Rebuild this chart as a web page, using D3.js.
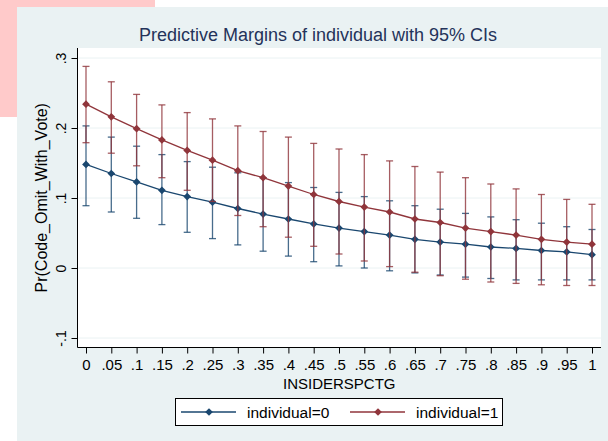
<!DOCTYPE html>
<html>
<head>
<meta charset="utf-8">
<script src="https://cdn.jsdelivr.net/npm/d3@7"></script>
<style>
  html, body { margin: 0; padding: 0; background: #fff; }
  svg { display: block; font-family: "Liberation Sans", Arial, sans-serif; }
</style>
</head>
<body>
<svg id="chart" width="608" height="441"></svg>
<script>
const xValues = [0, 0.05, 0.1, 0.15, 0.2, 0.25, 0.3, 0.35, 0.4, 0.45, 0.5, 0.55, 0.6, 0.65, 0.7, 0.75, 0.8, 0.85, 0.9, 0.95, 1];
const xTickLabels = ["0", ".05", ".1", ".15", ".2", ".25", ".3", ".35", ".4", ".45", ".5", ".55", ".6", ".65", ".7", ".75", ".8", ".85", ".9", ".95", "1"];
const yTicks = [-0.1, 0, 0.1, 0.2, 0.3];
const yTickLabels = ["-.1", "0", ".1", ".2", ".3"];

// individual=0
const est0 = [0.148, 0.135, 0.123, 0.111, 0.102, 0.094, 0.085, 0.077, 0.070, 0.063, 0.057, 0.052, 0.047, 0.041, 0.037, 0.034, 0.030, 0.028, 0.025, 0.023, 0.019];
const hi0 = [0.203, 0.187, 0.174, 0.162, 0.152, 0.144, 0.136, 0.129, 0.122, 0.115, 0.108, 0.102, 0.096, 0.089, 0.084, 0.078, 0.073, 0.069, 0.064, 0.059, 0.055];
const lo0 = [0.089, 0.080, 0.071, 0.062, 0.051, 0.042, 0.033, 0.024, 0.017, 0.009, 0.003, 0.000, -0.004, -0.007, -0.010, -0.013, -0.015, -0.017, -0.017, -0.017, -0.017];

// individual=1
const est1 = [0.234, 0.216, 0.199, 0.183, 0.168, 0.154, 0.139, 0.129, 0.117, 0.105, 0.095, 0.087, 0.080, 0.070, 0.065, 0.057, 0.052, 0.047, 0.041, 0.037, 0.034];
const hi1 = [0.288, 0.266, 0.248, 0.233, 0.222, 0.213, 0.203, 0.195, 0.187, 0.178, 0.170, 0.162, 0.153, 0.145, 0.137, 0.129, 0.120, 0.113, 0.105, 0.098, 0.091];
const lo1 = [0.179, 0.164, 0.146, 0.129, 0.111, 0.095, 0.075, 0.059, 0.044, 0.031, 0.020, 0.010, 0.002, -0.006, -0.011, -0.016, -0.020, -0.022, -0.024, -0.025, -0.025];

const series = [
  { label: "individual=0", color: "#1a476f", est: est0, lo: lo0, hi: hi0 },
  { label: "individual=1", color: "#90353b", est: est1, lo: lo1, hi: hi1 },
];

const svg = d3.select("#chart");
const plot = { left: 77.5, right: 601, top: 48, bottom: 347.5 };

const x = d3.scaleLinear().domain([0, 1]).range([86, 592]);
const y = d3.scaleLinear().domain([-0.1, 0.3]).range([338, 58]);

// page leftovers around the pasted graph
svg.append("rect").attr("x", 0).attr("y", 0).attr("width", 17).attr("height", 117).attr("fill", "#ffcaca");
svg.append("rect").attr("x", 0).attr("y", 0).attr("width", 155).attr("height", 7).attr("fill", "#ffcaca");

// graph background
svg.append("rect").attr("x", 17).attr("y", 7).attr("width", 591).attr("height", 434).attr("fill", "#eaf2f3");

// plot region
svg.append("rect")
  .attr("x", plot.left).attr("y", plot.top)
  .attr("width", plot.right - plot.left).attr("height", plot.bottom - plot.top)
  .attr("fill", "#fff");

svg.append("g")
  .selectAll("line")
  .data(yTicks)
  .join("line")
  .attr("x1", plot.left).attr("x2", plot.right)
  .attr("y1", (d) => y(d)).attr("y2", (d) => y(d))
  .attr("stroke", "#eaf2f3").attr("stroke-width", 1);

// title
svg.append("text")
  .attr("x", 318).attr("y", 41)
  .attr("text-anchor", "middle")
  .attr("font-size", 18)
  .attr("fill", "#24335a")
  .text("Predictive Margins of individual with 95% CIs");

// y axis
const yAxis = svg.append("g").attr("transform", `translate(${plot.left},0)`)
  .call(d3.axisLeft(y).tickValues(yTicks).tickSize(6).tickFormat((d, i) => yTickLabels[i]));
yAxis.select(".domain").attr("d", `M0,${plot.top}V${plot.bottom}`).attr("stroke", "#000");
yAxis.selectAll(".tick line").attr("stroke", "#000");
yAxis.selectAll(".tick text")
  .attr("x", null).attr("dy", null)
  .attr("transform", "translate(-12,0) rotate(-90)")
  .attr("text-anchor", "middle")
  .attr("font-size", 14)
  .attr("font-family", "Liberation Sans, Arial, sans-serif")
  .attr("fill", "#000");

svg.append("text")
  .attr("transform", `translate(47,${(plot.top + plot.bottom) / 2}) rotate(-90)`)
  .attr("text-anchor", "middle")
  .attr("font-size", 16)
  .text("Pr(Code_Omit_With_Vote)");

// x axis
const xAxis = svg.append("g").attr("transform", `translate(0,${plot.bottom})`)
  .call(d3.axisBottom(x).tickValues(xValues).tickSize(6).tickFormat((d, i) => xTickLabels[i]));
xAxis.select(".domain").attr("d", `M${plot.left},0H${plot.right}`).attr("stroke", "#000");
xAxis.selectAll(".tick line").attr("stroke", "#000");
xAxis.selectAll(".tick text")
  .attr("y", 12).attr("dy", "0.71em")
  .attr("font-size", 15)
  .attr("font-family", "Liberation Sans, Arial, sans-serif")
  .attr("fill", "#000");

svg.append("text")
  .attr("x", (plot.left + plot.right) / 2).attr("y", 388.5)
  .attr("text-anchor", "middle")
  .attr("font-size", 15)
  .text("INSIDERSPCTG");

// series
const diamond = d3.symbol().type(d3.symbolSquare).size(30);
const line = d3.line().x((d) => x(d[0])).y((d) => y(d[1]));

series.forEach((s) => {
  const g = svg.append("g");
  const rows = xValues.map((v, i) => ({ x: v, est: s.est[i], lo: s.lo[i], hi: s.hi[i] }));

  g.append("path")
    .attr("d", line(rows.map((r) => [r.x, r.est])))
    .attr("fill", "none")
    .attr("stroke", s.color)
    .attr("stroke-width", 1.3);

  const ci = g.append("g").attr("stroke", s.color).attr("stroke-opacity", 0.8).attr("stroke-width", 1.3);
  ci.selectAll(".bar").data(rows).join("line").attr("class", "bar")
    .attr("x1", (r) => x(r.x)).attr("x2", (r) => x(r.x))
    .attr("y1", (r) => y(r.lo)).attr("y2", (r) => y(r.hi));
  ci.selectAll(".caphi").data(rows).join("line").attr("class", "caphi")
    .attr("x1", (r) => x(r.x) - 3.5).attr("x2", (r) => x(r.x) + 3.5)
    .attr("y1", (r) => y(r.hi)).attr("y2", (r) => y(r.hi));
  ci.selectAll(".caplo").data(rows).join("line").attr("class", "caplo")
    .attr("x1", (r) => x(r.x) - 3.5).attr("x2", (r) => x(r.x) + 3.5)
    .attr("y1", (r) => y(r.lo)).attr("y2", (r) => y(r.lo));

  g.selectAll(".pt").data(rows).join("path").attr("class", "pt")
    .attr("d", diamond)
    .attr("transform", (r) => `translate(${x(r.x)},${y(r.est)}) rotate(45)`)
    .attr("fill", s.color);
});

// legend
const legend = svg.append("g");
legend.append("rect")
  .attr("x", 175.5).attr("y", 398.5).attr("width", 327).attr("height", 27)
  .attr("fill", "#fff").attr("stroke", "#000").attr("stroke-width", 1);

const legendX = [181, 350];
series.forEach((s, i) => {
  const lx = legendX[i];
  legend.append("line")
    .attr("x1", lx).attr("x2", lx + 55).attr("y1", 412).attr("y2", 412)
    .attr("stroke", s.color).attr("stroke-width", 1.3);
  legend.append("path")
    .attr("d", diamond)
    .attr("transform", `translate(${lx + 28},412) rotate(45)`)
    .attr("fill", s.color);
  legend.append("text")
    .attr("x", lx + 66).attr("y", 417.5)
    .attr("font-size", 15.5)
    .text(s.label);
});
</script>
</body>
</html>
